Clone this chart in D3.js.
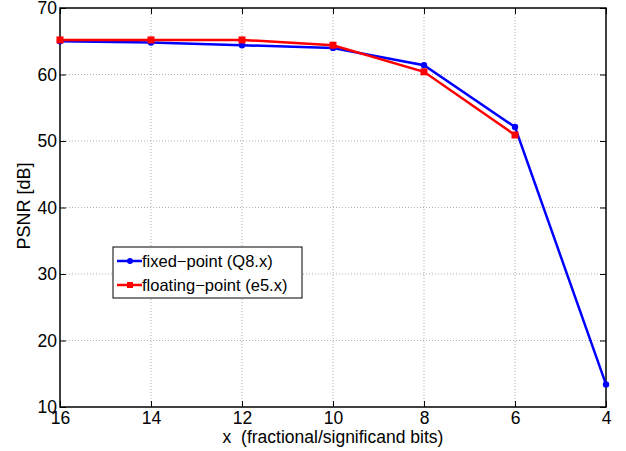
<!DOCTYPE html>
<html>
<head>
<meta charset="utf-8">
<script src="https://cdn.jsdelivr.net/npm/d3@7"></script>
<style>
  body { margin: 0; background: #fff; }
  svg { display: block; font-family: "Liberation Sans", Arial, sans-serif; }
</style>
</head>
<body>
<div id="chart"></div>
<script>
// data
var bits = [16, 14, 12, 10, 8, 6, 4];
var fixedPsnr = [65.0, 64.8, 64.4, 64.0, 61.4, 52.1, 13.4];
var floatBits = [16, 14, 12, 10, 8, 6];
var floatPsnr = [65.2, 65.2, 65.2, 64.4, 60.4, 50.9];
var xTicks = [16, 14, 12, 10, 8, 6, 4];
var yTicks = [10, 20, 30, 40, 50, 60, 70];

const width = 626;
const height = 451;
const plotLeft = 60, plotRight = 606, plotTop = 8, plotBottom = 407;

const svg = d3.select("#chart").append("svg")
    .attr("width", width)
    .attr("height", height);

var xScale = d3.scaleLinear().domain([16, 4]).range([plotLeft, plotRight]);
var yScale = d3.scaleLinear().domain([10, 70]).range([plotBottom, plotTop]);

//----------------------------GRID-------------------------------//
svg.append("g").selectAll("line")
    .data(xTicks.slice(1, -1))
    .enter().append("line")
    .attr("x1", d => xScale(d)).attr("x2", d => xScale(d))
    .attr("y1", plotTop).attr("y2", plotBottom)
    .attr("stroke", "#b0b0b0").attr("stroke-width", 1)
    .attr("stroke-dasharray", "1,2");

svg.append("g").selectAll("line")
    .data(yTicks.slice(1, -1))
    .enter().append("line")
    .attr("y1", d => yScale(d)).attr("y2", d => yScale(d))
    .attr("x1", plotLeft).attr("x2", plotRight)
    .attr("stroke", "#b0b0b0").attr("stroke-width", 1)
    .attr("stroke-dasharray", "1,2");

//-----------------------------AXES------------------------------//
function styleAxis(g) {
    g.select(".domain").remove();
    g.selectAll(".tick line").attr("stroke", "#000").attr("stroke-width", 1);
    g.selectAll(".tick text").attr("font-size", 17.5).attr("fill", "#000")
        .attr("font-family", "Liberation Sans, Arial, sans-serif");
}

svg.append("g")
    .attr("transform", "translate(0," + plotBottom + ")")
    .call(d3.axisBottom(xScale).tickValues(xTicks).tickSizeInner(-6).tickSizeOuter(0).tickPadding(2))
    .call(styleAxis)
    .selectAll(".tick text").attr("dy", "0.85em");

svg.append("g")
    .attr("transform", "translate(0," + plotTop + ")")
    .call(d3.axisTop(xScale).tickValues(xTicks).tickSizeInner(-6).tickSizeOuter(0).tickFormat(""))
    .call(styleAxis);

svg.append("g")
    .attr("transform", "translate(" + plotLeft + ",0)")
    .call(d3.axisLeft(yScale).tickValues(yTicks).tickSizeInner(-6).tickSizeOuter(0).tickPadding(3))
    .call(styleAxis);

svg.append("g")
    .attr("transform", "translate(" + plotRight + ",0)")
    .call(d3.axisRight(yScale).tickValues(yTicks).tickSizeInner(-6).tickSizeOuter(0).tickFormat(""))
    .call(styleAxis);

svg.append("rect")
    .attr("x", plotLeft).attr("y", plotTop)
    .attr("width", plotRight - plotLeft).attr("height", plotBottom - plotTop)
    .attr("fill", "none").attr("stroke", "#000").attr("stroke-width", 1.5);

svg.append("text")
    .attr("x", (plotLeft + plotRight) / 2).attr("y", 443)
    .attr("text-anchor", "middle").attr("font-size", 17.5)
    .style("white-space", "pre")
    .text("x  (fractional/significand bits)");

svg.append("text")
    .attr("transform", "translate(30," + 206 + ") rotate(-90)")
    .attr("text-anchor", "middle").attr("font-size", 18)
    .text("PSNR [dB]");

//----------------------------LINES------------------------------//
var line = d3.line()
    .x(d => xScale(d[0]))
    .y(d => yScale(d[1]));

var fixedData = bits.map((b, i) => [b, fixedPsnr[i]]);
var floatData = floatBits.map((b, i) => [b, floatPsnr[i]]);

svg.append("path")
    .attr("d", line(fixedData))
    .attr("fill", "none").attr("stroke", "#0000ff").attr("stroke-width", 2.5);

svg.append("path")
    .attr("d", line(floatData))
    .attr("fill", "none").attr("stroke", "#ff0000").attr("stroke-width", 2.5);

svg.append("g").selectAll("circle")
    .data(fixedData)
    .enter().append("circle")
    .attr("cx", d => xScale(d[0])).attr("cy", d => yScale(d[1]))
    .attr("r", 3.2).attr("fill", "#0000ff");

svg.append("g").selectAll("rect")
    .data(floatData)
    .enter().append("rect")
    .attr("x", d => xScale(d[0]) - 3.5).attr("y", d => yScale(d[1]) - 3.5)
    .attr("width", 7).attr("height", 7)
    .attr("fill", "#ff0000");

//----------------------------LEGEND-----------------------------//
var legend = svg.append("g").attr("transform", "translate(113,247)");
legend.append("rect")
    .attr("width", 189).attr("height", 51)
    .attr("fill", "#fff").attr("stroke", "#000").attr("stroke-width", 1);

var legendItems = [
    { label: "fixed\u2212point (Q8.x)", color: "#0000ff", marker: "circle" },
    { label: "floating\u2212point (e5.x)", color: "#ff0000", marker: "square" }
];

legendItems.forEach(function(item, i) {
    var ly = 14 + i * 24;
    legend.append("line")
        .attr("x1", 4).attr("x2", 29).attr("y1", ly).attr("y2", ly)
        .attr("stroke", item.color).attr("stroke-width", 2.5);
    if (item.marker === "circle") {
        legend.append("circle").attr("cx", 17).attr("cy", ly).attr("r", 3).attr("fill", item.color);
    } else {
        legend.append("rect").attr("x", 14).attr("y", ly - 3).attr("width", 6).attr("height", 6).attr("fill", item.color);
    }
    legend.append("text")
        .attr("x", 29).attr("y", ly + 5.5)
        .attr("font-size", 16.5)
        .text(item.label);
});
</script>
</body>
</html>
